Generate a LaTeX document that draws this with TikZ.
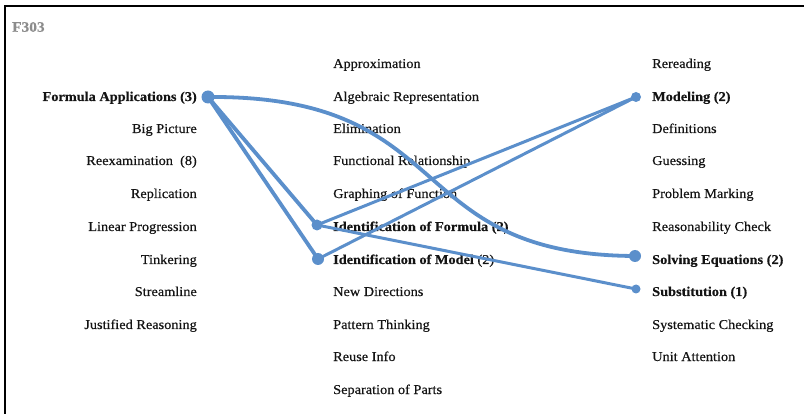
\documentclass[tikz,border=0pt]{standalone}
\usepackage{fontspec}
\setmainfont{Liberation Serif}[FakeStretch=1.06,
  UprightFeatures={FakeBold=0.5}, BoldFeatures={FakeBold=0.4}]
\definecolor{link}{HTML}{5B8FCB}
\definecolor{ink}{HTML}{141414}
\definecolor{tag}{HTML}{8C8C8C}

\begin{document}
\begin{tikzpicture}[x=1pt,y=-1pt,
  lbl/.style={inner sep=0pt, text height=9pt, text depth=3pt, yshift=-2pt,
              font=\fontsize{13.5}{15}\selectfont, text=ink},
  lft/.style={lbl, anchor=east},
  rgt/.style={lbl, anchor=west},
  hot/.style={font=\fontsize{13.5}{15}\selectfont\bfseries},
  dot/.style={circle, fill=link, inner sep=0pt, minimum size=#1},
  wire/.style={draw=link, line width=3pt, line cap=round},
  thick wire/.style={wire, line width=3.8pt}]

\useasboundingbox (0,0) rectangle (804,414);
% frame
\draw[line width=2.4pt, black] (5,414) -- (5,6) -- (804,6);

\node[anchor=west, inner sep=0pt, text=tag,
      font=\fontsize{14.5}{16}\selectfont\bfseries] (code) at (12,27) {F303};

% left column
\node[lft, hot] (fa)  at (197,96)  {Formula Applications (3)};
\node[lft] (bp)  at (197,128) {Big Picture};
\node[lft] (rex) at (197,160) {Reexamination\ \ (8)};
\node[lft] (rep) at (197,193) {Replication};
\node[lft] (lp)  at (197,226) {Linear Progression};
\node[lft] (tk)  at (197,259) {Tinkering};
\node[lft] (sl)  at (197,291) {Streamline};
\node[lft] (jr)  at (197,324) {Justified Reasoning};

% middle column
\node[rgt] (ap)  at (333,63)  {Approximation};
\node[rgt] (ar)  at (333,96)  {Algebraic Representation};
\node[rgt] (el)  at (333,128) {Elimination};
\node[rgt] (fr)  at (333,160) {Functional Relationship};
\node[rgt] (gf)  at (333,193) {Graphing of Function};
\node[rgt, hot] (idf) at (333,226) {Identification of Formula (2)};
\node[rgt, hot] (idm) at (333,259) {Identification of Model {\mdseries(2)}};
\node[rgt] (nd)  at (333,291) {New Directions};
\node[rgt] (pt)  at (333,324) {Pattern Thinking};
\node[rgt] (ri)  at (333,356) {Reuse Info};
\node[rgt] (sp)  at (333,389) {Separation of Parts};

% right column
\node[rgt] (rr)  at (652,63)  {Rereading};
\node[rgt, hot] (mo) at (652,96) {Modeling (2)};
\node[rgt] (df)  at (652,128) {Definitions};
\node[rgt] (gs)  at (652,160) {Guessing};
\node[rgt] (pm)  at (652,193) {Problem Marking};
\node[rgt] (rc)  at (652,226) {Reasonability Check};
\node[rgt, hot] (se) at (652,259) {Solving Equations (2)};
\node[rgt, hot] (su) at (652,291) {Substitution (1)};
\node[rgt] (sc)  at (652,324) {Systematic Checking};
\node[rgt] (ua)  at (652,356) {Unit Attention};

% link end points
\coordinate (pfa)  at (208,97);
\coordinate (pidf) at (317,225);
\coordinate (pidm) at (318,259);
\coordinate (pmo)  at (636,97);
\coordinate (pse)  at (635,256);
\coordinate (psu)  at (636,289);

% links
\draw[thick wire] (pfa) -- (pidf);
\draw[thick wire] (pfa) -- (pidm);
\draw[thick wire] (pfa) .. controls (460,95) and (400,255) .. (pse);
\draw[wire] (pidf) -- (pmo);
\draw[wire] (pidm) -- (pmo);
\draw[wire] (pidf) -- (psu);

% dots
\node[dot=13pt] (dfa)  at (pfa)  {};
\node[dot=11pt] (didf) at (pidf) {};
\node[dot=12pt] (didm) at (pidm) {};
\node[dot=10pt] (dmo)  at (pmo)  {};
\node[dot=12pt] (dse)  at (pse)  {};
\node[dot=9pt]  (dsu)  at (psu)  {};
\end{tikzpicture}
\end{document}
